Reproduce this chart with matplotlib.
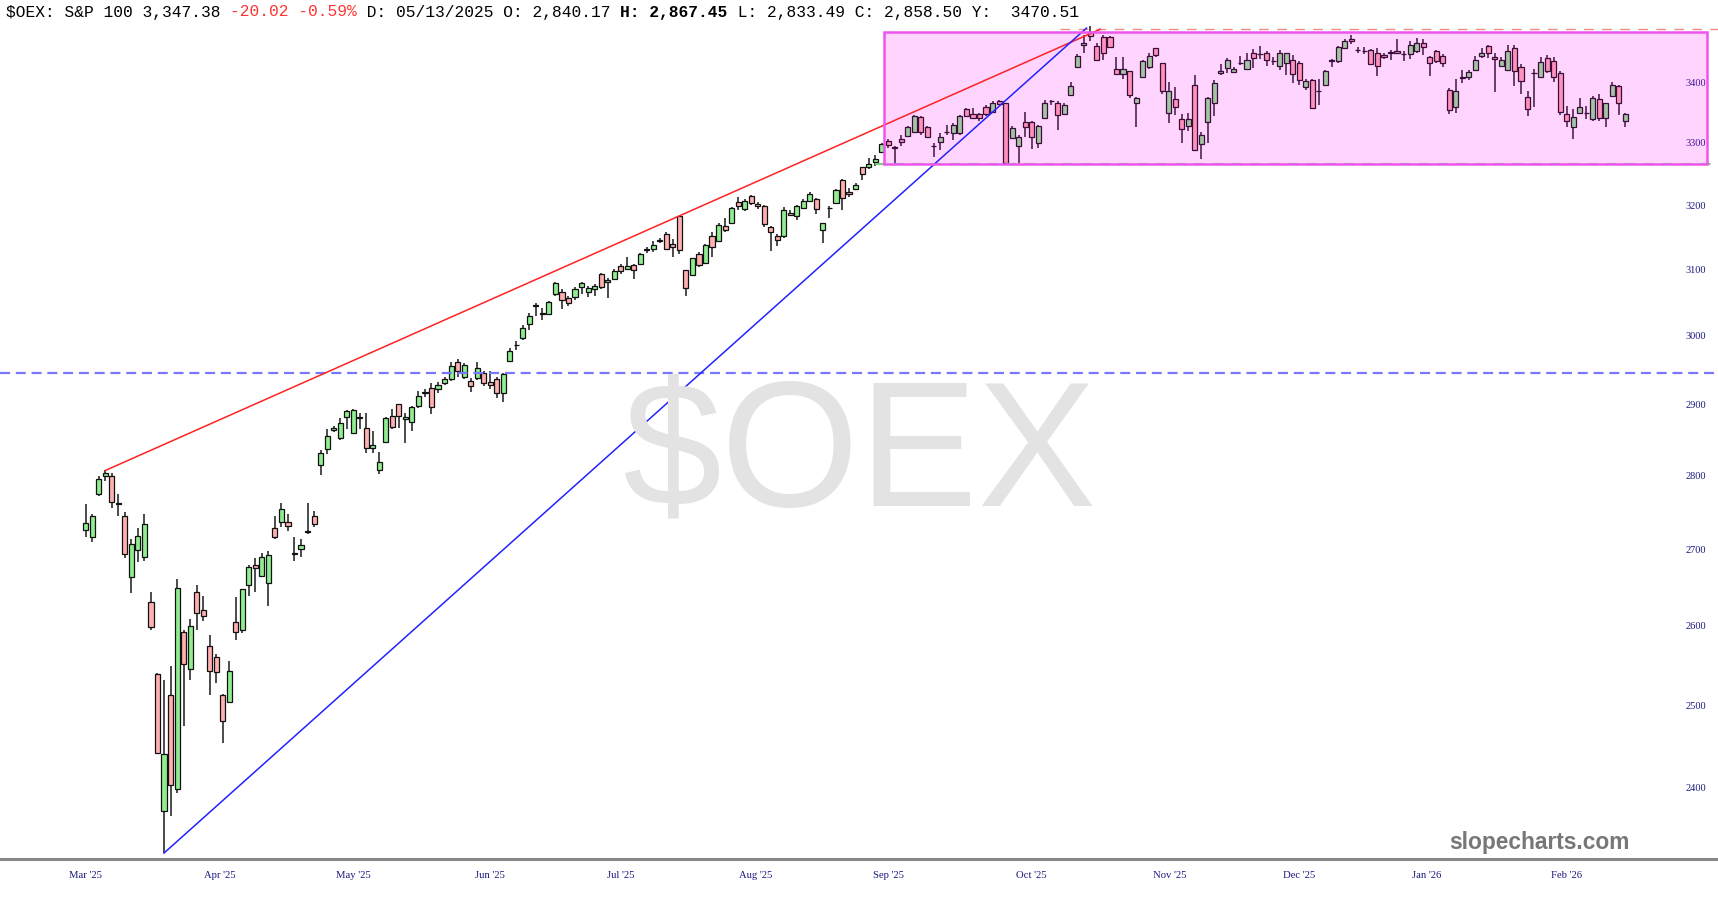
import numpy as np
import matplotlib
matplotlib.use("Agg")
import matplotlib.pyplot as plt
from matplotlib.patches import Rectangle
from matplotlib.ticker import FixedLocator, NullLocator, NullFormatter

# ---- daily OHLC (S&P 100, Mar '25 .. Feb '26) ----
opens = [
    2726, 2717, 2774, 2800, 2799, 2762, 2745, 2663, 2699, 2690,
    2630, 2539, 2373, 2512, 2399, 2592, 2545, 2644, 2620, 2574,
    2560, 2513, 2504, 2605, 2594, 2653, 2679, 2665, 2656, 2729,
    2737, 2736, 2695, 2700, 2724, 2744, 2814, 2837, 2864, 2852,
    2882, 2859, 2882, 2866, 2839, 2808, 2847, 2884, 2900, 2879,
    2875, 2898, 2917, 2923, 2922, 2931, 2937, 2961, 2940, 2934,
    2938, 2945, 2932, 2937, 2917, 2963, 2986, 2996, 3017, 3045,
    3034, 3032, 3062, 3066, 3056, 3058, 3073, 3066, 3070, 3093,
    3080, 3085, 3105, 3100, 3106, 3108, 3129, 3131, 3144, 3154,
    3139, 3183, 3099, 3091, 3123, 3110, 3152, 3144, 3167, 3172,
    3204, 3194, 3214, 3202, 3199, 3166, 3152, 3151, 3188, 3183,
    3196, 3207, 3209, 3160, 3196, 3203, 3240, 3221, 3226, 3260,
    3261, 3269, 3285, 3303, 3293, 3306, 3311, 3317, 3342, 3325,
    3295, 3301, 3317, 3315, 3316, 3356, 3347, 3347, 3358, 3351,
    3369, 3365, 3307, 3295, 3334, 3334, 3299, 3341, 3368, 3366,
    3347, 3379, 3425, 3463, 3485, 3461, 3477, 3476, 3422, 3414,
    3418, 3366, 3409, 3425, 3457, 3432, 3349, 3372, 3339, 3328,
    3396, 3298, 3334, 3366, 3415, 3424, 3417, 3432, 3422, 3450,
    3447, 3450, 3435, 3428, 3432, 3438, 3432, 3392, 3403, 3386,
    3396, 3436, 3435, 3457, 3473, 3455, 3452, 3455, 3449, 3446,
    3451, 3453, 3448, 3448, 3452, 3467, 3442, 3453, 3444, 3387,
    3358, 3407, 3409, 3421, 3445, 3462, 3443, 3428, 3421, 3457,
    3425, 3375, 3416, 3409, 3441, 3435, 3415, 3347, 3325, 3348,
    3349, 3338, 3372, 3340, 3377, 3394, 3336]
highs = [
    2761, 2747, 2799, 2807, 2803, 2775, 2750, 2713, 2728, 2747,
    2643, 2540, 2531, 2549, 2660, 2595, 2608, 2653, 2638, 2588,
    2564, 2514, 2555, 2637, 2648, 2679, 2689, 2695, 2698, 2744,
    2762, 2747, 2716, 2713, 2762, 2752, 2836, 2865, 2869, 2881,
    2892, 2894, 2888, 2888, 2862, 2833, 2882, 2893, 2900, 2888,
    2898, 2919, 2922, 2931, 2932, 2940, 2961, 2966, 2960, 2938,
    2961, 2948, 2948, 2940, 2945, 2982, 2992, 3016, 3034, 3049,
    3042, 3052, 3081, 3070, 3060, 3073, 3081, 3074, 3078, 3095,
    3087, 3100, 3108, 3119, 3108, 3125, 3135, 3143, 3148, 3157,
    3146, 3183, 3099, 3118, 3126, 3139, 3158, 3172, 3179, 3197,
    3212, 3209, 3216, 3204, 3200, 3167, 3155, 3197, 3192, 3200,
    3209, 3220, 3211, 3172, 3199, 3225, 3241, 3227, 3235, 3261,
    3275, 3280, 3300, 3306, 3295, 3313, 3328, 3346, 3343, 3328,
    3299, 3316, 3329, 3332, 3346, 3357, 3357, 3349, 3362, 3369,
    3370, 3366, 3328, 3313, 3351, 3335, 3329, 3370, 3370, 3368,
    3365, 3401, 3447, 3480, 3495, 3467, 3480, 3479, 3442, 3442,
    3419, 3375, 3438, 3449, 3457, 3433, 3401, 3392, 3347, 3349,
    3412, 3318, 3375, 3403, 3431, 3441, 3426, 3444, 3449, 3456,
    3461, 3453, 3443, 3455, 3450, 3446, 3435, 3406, 3405, 3406,
    3421, 3439, 3461, 3473, 3480, 3459, 3460, 3456, 3457, 3449,
    3455, 3473, 3452, 3469, 3475, 3473, 3444, 3455, 3447, 3390,
    3406, 3421, 3421, 3444, 3457, 3463, 3450, 3442, 3463, 3463,
    3431, 3385, 3422, 3442, 3446, 3442, 3418, 3360, 3355, 3373,
    3360, 3377, 3380, 3366, 3401, 3395, 3349]
lows = [
    2717, 2710, 2772, 2793, 2755, 2745, 2689, 2642, 2683, 2685,
    2595, 2441, 2324, 2367, 2394, 2474, 2531, 2595, 2606, 2513,
    2528, 2454, 2504, 2582, 2591, 2638, 2644, 2664, 2625, 2713,
    2730, 2724, 2685, 2690, 2720, 2730, 2801, 2830, 2861, 2849,
    2865, 2858, 2865, 2831, 2832, 2802, 2846, 2865, 2866, 2846,
    2862, 2895, 2911, 2887, 2917, 2928, 2934, 2939, 2937, 2918,
    2935, 2926, 2922, 2909, 2904, 2963, 2979, 2994, 3009, 3029,
    3024, 3031, 3060, 3040, 3045, 3054, 3063, 3058, 3060, 3070,
    3056, 3083, 3093, 3099, 3085, 3107, 3125, 3127, 3140, 3131,
    3119, 3124, 3060, 3090, 3104, 3109, 3119, 3143, 3158, 3172,
    3192, 3191, 3200, 3193, 3165, 3128, 3136, 3149, 3182, 3176,
    3193, 3204, 3186, 3141, 3179, 3201, 3192, 3213, 3223, 3240,
    3257, 3263, 3283, 3292, 3266, 3294, 3309, 3316, 3313, 3307,
    3277, 3288, 3313, 3304, 3313, 3342, 3338, 3335, 3343, 3349,
    3362, 3266, 3306, 3267, 3310, 3289, 3292, 3340, 3362, 3321,
    3346, 3379, 3424, 3450, 3469, 3437, 3438, 3457, 3414, 3405,
    3373, 3325, 3407, 3422, 3443, 3381, 3332, 3346, 3299, 3319,
    3287, 3273, 3300, 3343, 3412, 3416, 3415, 3429, 3421, 3424,
    3439, 3427, 3429, 3421, 3412, 3398, 3395, 3387, 3357, 3362,
    3395, 3426, 3433, 3456, 3465, 3449, 3447, 3429, 3410, 3439,
    3438, 3447, 3435, 3439, 3449, 3446, 3410, 3433, 3426, 3347,
    3349, 3399, 3403, 3419, 3441, 3441, 3384, 3426, 3419, 3394,
    3380, 3343, 3359, 3407, 3415, 3400, 3346, 3325, 3306, 3347,
    3338, 3335, 3335, 3325, 3376, 3346, 3325]
closes = [
    2735, 2745, 2795, 2803, 2763, 2761, 2694, 2707, 2718, 2734,
    2598, 2442, 2441, 2403, 2649, 2551, 2600, 2616, 2612, 2542,
    2541, 2481, 2543, 2592, 2648, 2677, 2675, 2690, 2692, 2716,
    2754, 2731, 2694, 2706, 2723, 2734, 2831, 2855, 2866, 2873,
    2890, 2892, 2881, 2839, 2842, 2819, 2881, 2868, 2883, 2882,
    2896, 2912, 2918, 2896, 2928, 2936, 2955, 2948, 2957, 2926,
    2953, 2931, 2928, 2916, 2944, 2977, 2987, 3011, 3029, 3046,
    3033, 3051, 3079, 3054, 3049, 3070, 3079, 3071, 3075, 3073,
    3084, 3098, 3097, 3105, 3099, 3124, 3131, 3138, 3145, 3132,
    3134, 3129, 3072, 3118, 3106, 3137, 3134, 3168, 3161, 3195,
    3199, 3207, 3203, 3199, 3170, 3158, 3145, 3192, 3184, 3199,
    3206, 3217, 3193, 3172, 3196, 3223, 3211, 3217, 3232, 3249,
    3266, 3273, 3298, 3296, 3292, 3301, 3325, 3343, 3317, 3309,
    3294, 3310, 3318, 3329, 3343, 3344, 3340, 3341, 3347, 3365,
    3364, 3267, 3324, 3309, 3325, 3309, 3328, 3365, 3368, 3346,
    3362, 3394, 3444, 3467, 3479, 3438, 3449, 3459, 3414, 3422,
    3379, 3373, 3435, 3444, 3446, 3385, 3385, 3358, 3323, 3339,
    3288, 3313, 3373, 3398, 3419, 3437, 3422, 3432, 3438, 3441,
    3447, 3438, 3435, 3449, 3449, 3413, 3403, 3402, 3357, 3386,
    3419, 3437, 3460, 3470, 3469, 3454, 3452, 3431, 3428, 3442,
    3450, 3449, 3447, 3463, 3467, 3459, 3433, 3436, 3432, 3353,
    3385, 3409, 3417, 3437, 3450, 3449, 3439, 3438, 3452, 3419,
    3402, 3355, 3416, 3434, 3418, 3409, 3351, 3335, 3342, 3359,
    3349, 3373, 3340, 3365, 3396, 3366, 3347]

month_labels = ["Mar '25", "Apr '25", "May '25", "Jun '25", "Jul '25", "Aug '25",
                "Sep '25", "Oct '25", "Nov '25", "Dec '25", "Jan '26", "Feb '26"]
month_pos = [0, 20.5, 41, 62, 82, 102.7, 123, 145, 166.2, 186, 205.6, 227]
price_ticks = [2400, 2500, 2600, 2700, 2800, 2900, 3000, 3100, 3200, 3300, 3400]

# drawn annotations (trend lines, levels, range box)
red_trend_end = (155.5, 3490)
blue_trend_end = (153.4, 3492)
level_blue = 2946
level_red = 3490
level_green = 3265
box_start, box_end = 122.4, 248.5
box_low, box_high = 3265.6, 3485.5

W, H = 1718, 900
fig = plt.figure(figsize=(W / 100, H / 100), dpi=100)
ax = fig.add_axes([0, 41 / H, 1, (859 - 22) / H])

x = np.arange(len(opens))
o = np.array(opens, float)
c = np.array(closes, float)
up = c >= o
body_lo = np.minimum(o, c)
body_hi = np.maximum(o, c)

ax.vlines(x, lows, highs, color='#1a1a1a', lw=1.1, zorder=2)
ax.bar(x, body_hi - body_lo, bottom=body_lo, width=0.78,
       color=np.where(up, '#90ee90', '#ffb0b0'), edgecolor='#111111',
       linewidth=0.9, zorder=3)

xmin, xmax = -13.14, 250.2
ax.set_xlim(xmin, xmax)
ax.set_yscale('log')
ax.set_ylim(2317.2, 3502.5)

# watermark
fig.text(859 / W, 1 - 506 / H, '$OEX', fontsize=128, color='#e3e3e3',
         family='Liberation Sans', ha='center', va='baseline', zorder=0)

# range box
ax.add_patch(Rectangle((box_start, box_low), box_end - box_start, box_high - box_low,
                       facecolor='#ff00ff', alpha=0.17, edgecolor='none', zorder=4))
ax.add_patch(Rectangle((box_start, box_low), box_end - box_start, box_high - box_low,
                       fill=False, edgecolor='#ee55ee', lw=1.8, zorder=6))

# levels
ax.plot([xmin, xmax], [level_blue, level_blue], color='#7777ff', lw=1.6,
        linestyle=(0, (4.5, 2.6)), zorder=5)
ax.plot([149.3, xmax], [level_red, level_red], color='#f08a8a', lw=1.0,
        linestyle=(0, (7, 6)), zorder=5)
ax.plot([121, xmax], [level_green, level_green], color='#77cc77', lw=1.5,
        linestyle=(0, (5, 4)), zorder=5)

# trend lines
ax.plot([3, red_trend_end[0]], [highs[3], red_trend_end[1]], color='#ff2222', lw=1.1, zorder=5)
ax.plot([12, blue_trend_end[0]], [lows[12], blue_trend_end[1]], color='#2222ff', lw=1.1, zorder=5)

# axes styling
for s in ['top', 'left', 'right']:
    ax.spines[s].set_visible(False)
ax.spines['bottom'].set_color('#888888')
ax.spines['bottom'].set_linewidth(2.2)

ax.xaxis.set_major_locator(FixedLocator(month_pos))
ax.set_xticklabels(month_labels)
ax.tick_params(axis='x', length=0, pad=9, labelsize=7.7, labelcolor='#1a1a80')
for t in ax.get_xticklabels():
    t.set_family('Liberation Serif')

ax.yaxis.tick_right()
ax.yaxis.set_major_locator(FixedLocator(price_ticks))
ax.yaxis.set_minor_locator(NullLocator())
ax.yaxis.set_minor_formatter(NullFormatter())
ax.set_yticklabels([str(v) for v in price_ticks])
ax.tick_params(axis='y', length=0, pad=-8.6, labelsize=7.5, labelcolor='#1a1a80')
for t in ax.get_yticklabels():
    t.set_family('Liberation Serif')
    t.set_ha('right')

fig.text(1539.5 / W, 1 - 842 / H, 'slopecharts.com', fontsize=16.4, fontweight='bold',
         color='#777777', family='Liberation Sans', ha='center', va='center')

# header line, monospace pieces
fs = 11.7
cw = 0.6 * fs * 100 / 72
pieces = [("$OEX: S&P 100 3,347.38 ", 'black', 'normal'),
          ("-20.02 -0.59%", '#ff3333', 'normal'),
          (" D: 05/13/2025 O: 2,840.17 ", 'black', 'normal'),
          ("H: 2,867.45", 'black', 'bold'),
          (" L: 2,833.49 C: 2,858.50 Y:  3470.51", 'black', 'normal')]
n = 0
for txt, col, wt in pieces:
    fig.text((6 + n * cw) / W, 1 - 12 / H, txt, fontsize=fs, color=col, fontweight=wt,
             family='Liberation Mono', ha='left', va='center')
    n += len(txt)

fig.savefig('out.png', dpi=100)
